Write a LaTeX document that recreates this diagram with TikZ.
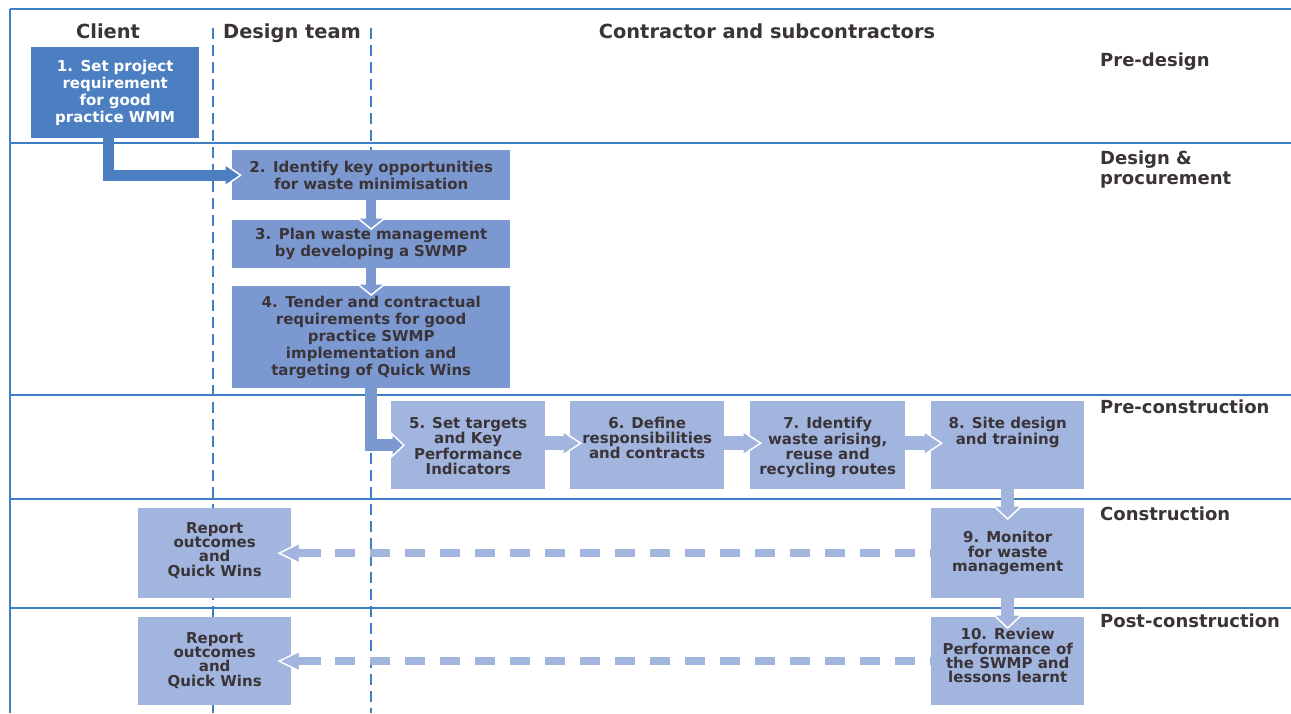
\documentclass[tikz,border=0pt]{standalone}
\usepackage{fontspec}
\setmainfont{DejaVu Sans}
\usetikzlibrary{arrows.meta}
\definecolor{frameblue}{RGB}{62,126,195}
\definecolor{boxA}{RGB}{75,127,194}
\definecolor{boxB}{RGB}{123,152,209}
\definecolor{boxC}{RGB}{162,181,223}
\definecolor{txt}{RGB}{58,52,56}
\newcommand\tbx[3]{\parbox[c][#1pt][t]{#2pt}{\centering #3}}
\begin{document}
\begin{tikzpicture}[x=1pt,y=-1pt,
  frameline/.style={draw=frameblue,line width=2pt},
  lanedash/.style={draw=frameblue,line width=2pt,dash pattern=on 11pt off 6pt},
  box/.style={rectangle,inner sep=0pt,anchor=north west,text=txt,
    font=\bfseries\fontsize{15}{14.4}\selectfont},
  bigbox/.style={box,align=center,font=\bfseries\fontsize{15}{17}\selectfont},
  phase/.style={anchor=base west,inner sep=0pt,text=txt,align=left,
    font=\bfseries\fontsize{18}{20}\selectfont},
  lanehead/.style={anchor=base,inner sep=0pt,text=txt,
    font=\bfseries\fontsize{19.4}{22}\selectfont},
  flow/.style n args={4}{draw=#1,line width=#2,
    -{Triangle[length=#3,width=#4,color=white,fill=#1,line width=1.5pt]}},
  shaft/.style n args={3}{draw=#1,line width=#2,shorten >=#3},
  back/.style={draw=boxC,line width=8pt,dash pattern=on 20pt off 15pt,
    {Triangle[length=23pt,width=22pt,color=white,fill=boxC,line width=1.5pt]}-},
  backstub/.style={draw=boxC,line width=8pt,shorten <=20pt,dash pattern=on 24pt off 2000pt}
]
\useasboundingbox (0,0) rectangle (1291,713);

% frame and swimlane lines
\draw[frameline] (10,9) -- (1291,9);
\draw[frameline] (10,9) -- (10,713);
\draw[frameline] (10,143) -- (1291,143);
\draw[frameline] (10,395) -- (1291,395);
\draw[frameline] (10,499) -- (1291,499);
\draw[frameline] (10,608) -- (1291,608);
\draw[lanedash] (213,28) -- (213,608);
\draw[frameline] (213,608) -- (213,713);
\draw[lanedash] (371,28) -- (371,713);

% lane headers
\node[lanehead] (hC) at (108,38) {Client};
\node[lanehead] (hD) at (292,38) {Design team};
\node[lanehead] (hK) at (767,38) {Contractor and subcontractors};

% phase labels
\node[phase] (pPre) at (1100,66) {Pre-design};
\node[phase,anchor=north west] (pDes) at (1100,151) {Design \&\\procurement};
\node[phase] (pPreC) at (1100,413) {Pre-construction};
\node[phase] (pCon) at (1100,520) {Construction};
\node[phase] (pPost) at (1100,627) {Post-construction};

% boxes
\node[bigbox,fill=boxA,text=white,minimum width=168pt,minimum height=91pt,text width=164pt] (n1) at (31,47)
  {1. Set project\\requirement\\for good\\practice WMM};
\node[bigbox,fill=boxB,minimum width=278pt,minimum height=50pt,text width=274pt] (n2) at (232,150)
  {2. Identify key opportunities\\for waste minimisation};
\node[bigbox,fill=boxB,minimum width=278pt,minimum height=48pt,text width=274pt] (n3) at (232,220)
  {3. Plan waste management\\by developing a SWMP};
\node[bigbox,fill=boxB,minimum width=278pt,minimum height=102pt,text width=274pt] (n4) at (232,286)
  {4. Tender and contractual\\requirements for good\\practice SWMP\\implementation and\\targeting of Quick Wins};
\node[box,fill=boxC,minimum width=154pt,minimum height=88pt] (n5) at (391,401)
  {\tbx{56}{152}{5. Set targets\\and Key\\Performance\\Indicators}};
\node[box,fill=boxC,minimum width=154pt,minimum height=88pt] (n6) at (570,401)
  {\tbx{56}{152}{6. Define\\responsibilities\\and contracts}};
\node[box,fill=boxC,minimum width=155pt,minimum height=88pt] (n7) at (750,401)
  {\tbx{56}{153}{7. Identify\\waste arising,\\reuse and\\recycling routes}};
\node[box,fill=boxC,minimum width=153pt,minimum height=88pt] (n8) at (931,401)
  {\tbx{56}{151}{8. Site design\\and training}};
\node[box,fill=boxC,minimum width=153pt,minimum height=90pt] (n9) at (931,508)
  {\tbx{44}{151}{9. Monitor\\for waste\\management}};
\node[box,fill=boxC,minimum width=153pt,minimum height=88pt] (n10) at (931,617)
  {\tbx{66}{151}{10. Review\\Performance of\\the SWMP and\\lessons learnt}};
\node[box,fill=boxC,minimum width=153pt,minimum height=90pt] (r1) at (138,508)
  {\tbx{62}{151}{Report\\outcomes\\and\\Quick Wins}};
\node[box,fill=boxC,minimum width=153pt,minimum height=88pt] (r2) at (138,617)
  {\tbx{58}{151}{Report\\outcomes\\and\\Quick Wins}};

% connectors
\draw[flow={boxA}{11pt}{18pt}{24pt}] ([xshift=-7pt]n1.south) |- ([xshift=10pt]n2.west);
\draw[shaft={boxA}{11pt}{15pt}] ([xshift=-7pt]n1.south) |- ([xshift=10pt]n2.west);

\draw[flow={boxB}{10pt}{13pt}{32pt}] (n2.south) -- ([yshift=-10pt]n3.north);
\draw[shaft={boxB}{10pt}{10pt}] (n2.south) -- ([yshift=-10pt]n3.north);
\draw[flow={boxB}{10pt}{13pt}{32pt}] (n3.south) -- ([yshift=-10pt]n4.north);
\draw[shaft={boxB}{10pt}{10pt}] (n3.south) -- ([yshift=-10pt]n4.north);

\draw[flow={boxB}{12pt}{14pt}{26pt}] (n4.south) |- ([xshift=14pt]n5.west);
\draw[shaft={boxB}{12pt}{11pt}] (n4.south) |- ([xshift=14pt]n5.west);

\draw[flow={boxC}{14pt}{20pt}{26pt}] ([yshift=2pt]n5.east) -- ([xshift=12pt,yshift=2pt]n6.west);
\draw[shaft={boxC}{14pt}{17pt}] ([yshift=2pt]n5.east) -- ([xshift=12pt,yshift=2pt]n6.west);
\draw[flow={boxC}{14pt}{20pt}{26pt}] ([yshift=2pt]n6.east) -- ([xshift=12pt,yshift=2pt]n7.west);
\draw[shaft={boxC}{14pt}{17pt}] ([yshift=2pt]n6.east) -- ([xshift=12pt,yshift=2pt]n7.west);
\draw[flow={boxC}{14pt}{20pt}{26pt}] ([yshift=2pt]n7.east) -- ([xshift=12pt,yshift=2pt]n8.west);
\draw[shaft={boxC}{14pt}{17pt}] ([yshift=2pt]n7.east) -- ([xshift=12pt,yshift=2pt]n8.west);

\draw[flow={boxC}{13pt}{15pt}{32pt}] (n8.south) -- ([yshift=-12pt]n9.north);
\draw[shaft={boxC}{13pt}{12pt}] (n8.south) -- ([yshift=-12pt]n9.north);
\draw[flow={boxC}{13pt}{15pt}{32pt}] (n9.south) -- ([yshift=-12pt]n10.north);
\draw[shaft={boxC}{13pt}{12pt}] (n9.south) -- ([yshift=-12pt]n10.north);

\draw[back] ([xshift=-14pt]r1.east) -- (n9.west);
\draw[backstub] ([xshift=-14pt]r1.east) -- (n9.west);
\draw[back] ([xshift=-14pt]r2.east) -- (n10.west);
\draw[backstub] ([xshift=-14pt]r2.east) -- (n10.west);
\end{tikzpicture}
\end{document}
